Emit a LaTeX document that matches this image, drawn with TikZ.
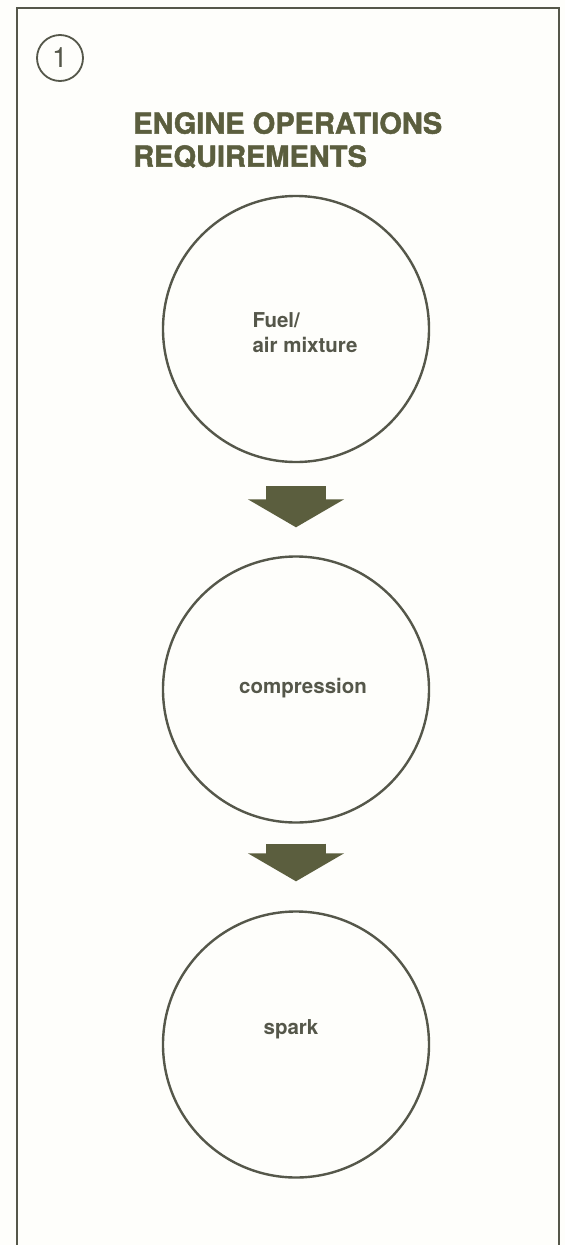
\documentclass[tikz,border=0pt]{standalone}
\usepackage{fontspec}
\setmainfont{TeX Gyre Heros}
\newfontfamily\heavyfont[FakeBold=1.6]{TeX Gyre Heros Bold}
\usetikzlibrary{arrows.meta}
\definecolor{olive}{HTML}{5B5E3E}
\definecolor{ink}{HTML}{55574A}
\definecolor{paper}{HTML}{FEFEFB}

\begin{document}
\begin{tikzpicture}[
  x=1pt, y=-1pt,
  c/.style={circle, draw=ink, line width=2.4pt, minimum size=266pt, inner sep=0pt},
  t/.style={text=ink, font=\fontsize{20.5}{25}\selectfont\bfseries, inner sep=0pt},
  a/.style={olive, line width=60pt, -{Triangle[width=95pt,length=28pt]}}
]
\fill[paper] (0,0) rectangle (565,1245);
\useasboundingbox (0,0) rectangle (565,1245);

\draw[ink, line width=2.8pt] (17,1250) -- (17,8) -- (559,8) -- (559,1250);

\node[circle, draw=ink, line width=1.8pt, minimum size=46pt, inner sep=0pt,
  text=ink, font=\fontsize{28}{28}\selectfont] (n) at (60,58) {1};
\node[anchor=north west, align=left, inner sep=0pt, text=olive,
  font=\fontsize{29}{33}\selectfont\heavyfont] (title) at (133,112)
  {ENGINE OPERATIONS\\REQUIREMENTS};

\node[c] (fuel) at (296,329) {};
\node[c] (comp) at (296,689.5) {};
\node[c] (spark) at (296,1044.5) {};

\node[t, align=left] (fueltxt) at (305,333) {Fuel/\\air mixture};
\node[t] (comptxt) at (303,688) {compression};
\node[t] (sparktxt) at (291,1029) {spark};

\draw[a, shorten <=23pt, shorten >=28pt] (fuel) -- (comp);
\draw[a, shorten <=20pt, shorten >=29pt] (comp) -- (spark);
\end{tikzpicture}
\end{document}
